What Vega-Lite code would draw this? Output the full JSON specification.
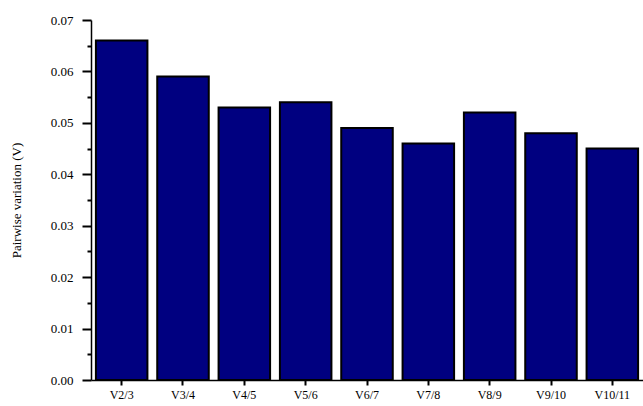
{
  "$schema": "https://vega.github.io/schema/vega-lite/v6.json",
  "autosize": {"type": "none"},
  "width": 552,
  "height": 360,
  "padding": {"left": 91, "top": 20, "right": 0, "bottom": 26},
  "background": "white",
  "config": {"view": {"stroke": null}, "font": "Times New Roman, Liberation Serif, serif"},
  "data": {"values": [
    {"pair": "V2/3", "v": 0.066},
    {"pair": "V3/4", "v": 0.059},
    {"pair": "V4/5", "v": 0.053},
    {"pair": "V5/6", "v": 0.054},
    {"pair": "V6/7", "v": 0.049},
    {"pair": "V7/8", "v": 0.046},
    {"pair": "V8/9", "v": 0.052},
    {"pair": "V9/10", "v": 0.048},
    {"pair": "V10/11", "v": 0.045}
  ]},
  "mark": {"type": "bar", "fill": "#000080", "stroke": "black", "strokeWidth": 2},
  "encoding": {
    "x": {
      "field": "pair", "type": "nominal", "sort": null,
      "scale": {"paddingInner": 0.16, "paddingOuter": 0.08},
      "axis": {
        "title": null, "labelAngle": 0, "labelFont": "Times New Roman, Liberation Serif, serif", "labelFontSize": 12,
        "labelColor": "black", "domainColor": "black", "domainWidth": 1.5,
        "tickColor": "black", "tickWidth": 2, "tickSize": 5, "labelPadding": 4
      }
    },
    "y": {
      "field": "v", "type": "quantitative",
      "scale": {"domain": [0, 0.07], "nice": false},
      "axis": {
        "title": "Pairwise variation (V)", "titleFont": "Times New Roman, Liberation Serif, serif", "titleFontSize": 13,
        "titleFontWeight": "normal", "titleColor": "black", "titleX": -75, "titleY": 180,
        "titleAngle": -90, "titleAlign": "center", "titleBaseline": "middle",
        "values": [0, 0.005, 0.01, 0.015, 0.02, 0.025, 0.03, 0.035, 0.04, 0.045, 0.05, 0.055, 0.06, 0.065, 0.07],
        "labelExpr": "round(datum.value * 1000) % 10 == 0 ? format(datum.value, '.2f') : ''",
        "tickSize": {"condition": {"test": "round(datum.value * 1000) % 10 == 0", "value": 9}, "value": 4},
        "labelPadding": 9, "labelFont": "Times New Roman, Liberation Serif, serif", "labelFontSize": 13, "labelColor": "black",
        "grid": false, "domainColor": "black", "domainWidth": 1.5,
        "tickColor": "black", "tickWidth": 2
      }
    }
  }
}
